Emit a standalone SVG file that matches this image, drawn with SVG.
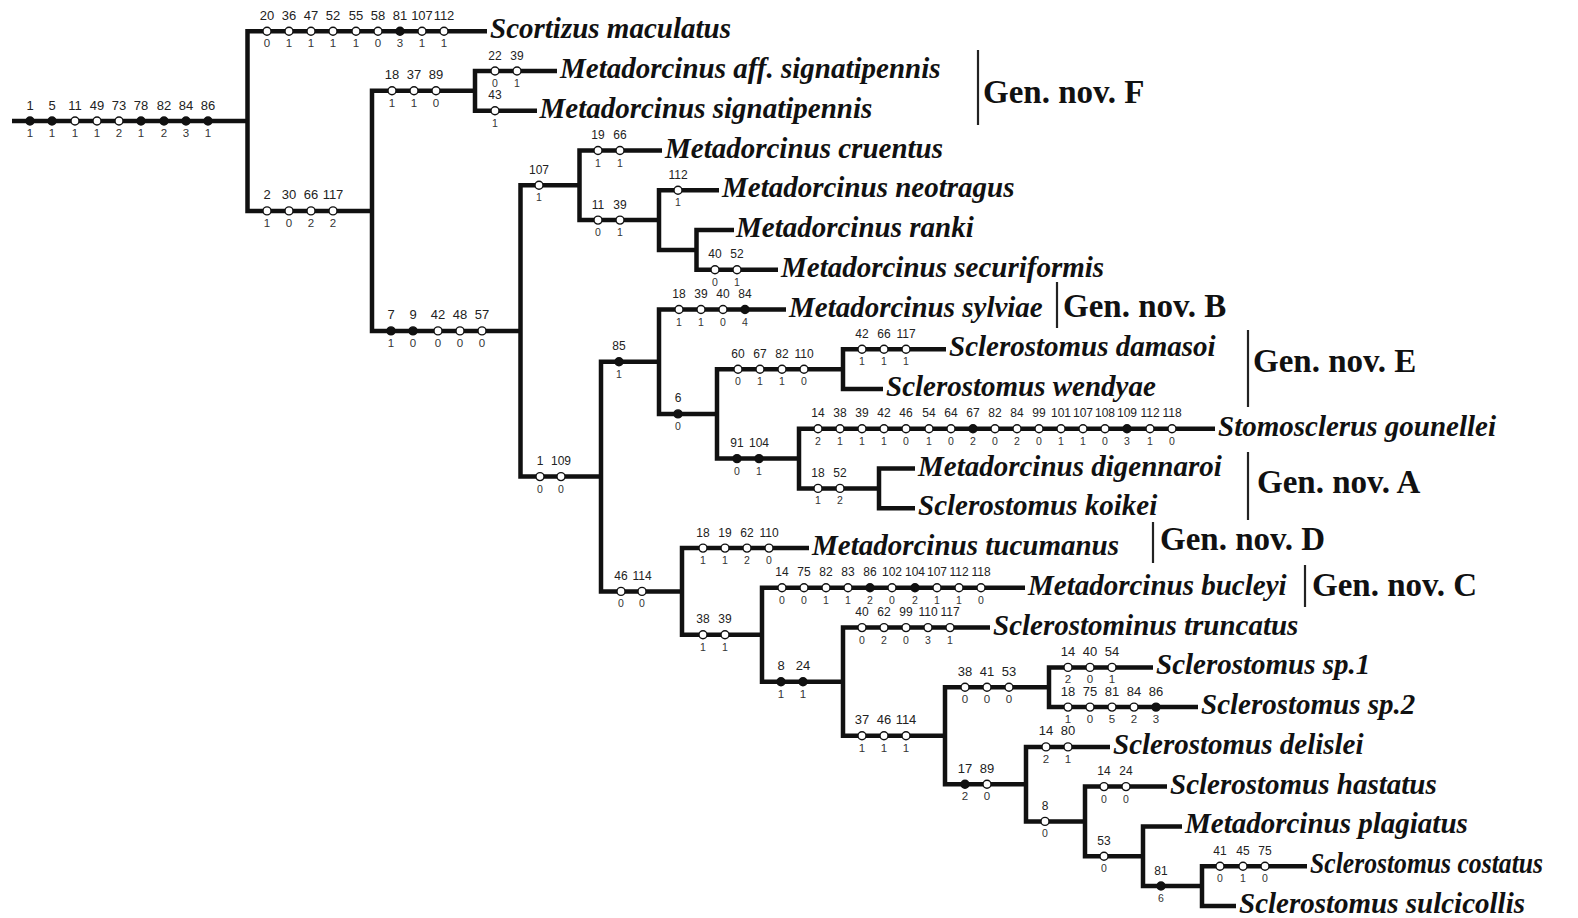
<svg xmlns="http://www.w3.org/2000/svg" width="1578" height="918" viewBox="0 0 1578 918">
<style>
  .br{fill:none;stroke:#111;stroke-width:4.5;stroke-linejoin:miter}
  .bar{stroke:#222;stroke-width:2.2}
  .o{fill:#fff;stroke:#111;stroke-width:1.4}
  .f{fill:#111;stroke:#111;stroke-width:1.4}
  .sp{font-family:"Liberation Serif","Times New Roman",serif;font-weight:bold;font-style:italic;font-size:29px;fill:#111}
  .gn{font-family:"Liberation Serif","Times New Roman",serif;font-weight:bold;font-size:33px;fill:#111}
  .la{font-family:"Liberation Sans",Arial,sans-serif;font-size:13px;fill:#222;text-anchor:middle}
  .lb{font-family:"Liberation Sans",Arial,sans-serif;font-size:11.5px;fill:#333;text-anchor:middle}
  .sa{font-family:"Liberation Sans",Arial,sans-serif;font-size:12px;fill:#222;text-anchor:middle}
  .sb{font-family:"Liberation Sans",Arial,sans-serif;font-size:10.5px;fill:#333;text-anchor:middle}
</style>
<rect width="1578" height="918" fill="#fff"/>

<!-- branches of the tree -->
<g id="connectors" class="br">
  <path d="M12 121 H247.5"/>
  <path d="M487 31.2 H247.5 V210.9 H372"/>
  <path d="M475 90.8 H372 V330.9 H520.5"/>
  <path d="M557 71 H475 V110.7 H537"/>
  <path d="M579.5 185.3 H520.5 V476.6 H601"/>
  <path d="M662 150.5 H579.5 V220.1 H659"/>
  <path d="M719 190.2 H659 V249.9 H696.5"/>
  <path d="M734 230 H696.5 V269.8 H778"/>
  <path d="M659 361.7 H601 V591.4 H682"/>
  <path d="M786 309.5 H659 V413.9 H717"/>
  <path d="M843 369.2 H717 V458.6 H799"/>
  <path d="M946 349.3 H843 V389 H883"/>
  <path d="M1215 428.8 H799 V488.4 H879"/>
  <path d="M915 468.6 H879 V508.3 H915"/>
  <path d="M809 548.1 H682 V634.8 H762"/>
  <path d="M1025 587.8 H762 V681.7 H843"/>
  <path d="M990 627.6 H843 V735.7 H945"/>
  <path d="M1049 687.3 H945 V784.2 H1026"/>
  <path d="M1153 667.4 H1049 V707.1 H1198"/>
  <path d="M1110 746.9 H1026 V821.4 H1085"/>
  <path d="M1167 786.6 H1085 V856.2 H1143"/>
  <path d="M1182 826.4 H1143 V886 H1202"/>
  <path d="M1307 866.2 H1202 V905.9 H1236"/>
</g>

<!-- character changes on each branch -->
<g id="ch-root">
  <circle class="f" cx="30" cy="121" r="4"/><circle class="f" cx="52" cy="121" r="4"/><circle class="o" cx="75" cy="121" r="4"/><circle class="o" cx="97" cy="121" r="4"/><circle class="o" cx="119" cy="121" r="4"/><circle class="f" cx="141" cy="121" r="4"/><circle class="f" cx="164" cy="121" r="4"/><circle class="f" cx="186" cy="121" r="4"/><circle class="f" cx="208" cy="121" r="4"/>
  <text class="la" y="109.5"><tspan x="30">1</tspan><tspan x="52">5</tspan><tspan x="75">11</tspan><tspan x="97">49</tspan><tspan x="119">73</tspan><tspan x="141">78</tspan><tspan x="164">82</tspan><tspan x="186">84</tspan><tspan x="208">86</tspan></text>
  <text class="lb" y="137"><tspan x="30">1</tspan><tspan x="52">1</tspan><tspan x="75">1</tspan><tspan x="97">1</tspan><tspan x="119">2</tspan><tspan x="141">1</tspan><tspan x="164">2</tspan><tspan x="186">3</tspan><tspan x="208">1</tspan></text>
</g>
<g id="ch-scortizus">
  <circle class="o" cx="267" cy="31.2" r="4"/><circle class="o" cx="289" cy="31.2" r="4"/><circle class="o" cx="311" cy="31.2" r="4"/><circle class="o" cx="333" cy="31.2" r="4"/><circle class="o" cx="356" cy="31.2" r="4"/><circle class="o" cx="378" cy="31.2" r="4"/><circle class="f" cx="400" cy="31.2" r="4"/><circle class="o" cx="422" cy="31.2" r="4"/><circle class="o" cx="444" cy="31.2" r="4"/>
  <text class="la" y="19.7"><tspan x="267">20</tspan><tspan x="289">36</tspan><tspan x="311">47</tspan><tspan x="333">52</tspan><tspan x="356">55</tspan><tspan x="378">58</tspan><tspan x="400">81</tspan><tspan x="422">107</tspan><tspan x="444">112</tspan></text>
  <text class="lb" y="47.2"><tspan x="267">0</tspan><tspan x="289">1</tspan><tspan x="311">1</tspan><tspan x="333">1</tspan><tspan x="356">1</tspan><tspan x="378">0</tspan><tspan x="400">3</tspan><tspan x="422">1</tspan><tspan x="444">1</tspan></text>
</g>
<g id="ch-a">
  <circle class="o" cx="267" cy="210.9" r="4"/><circle class="o" cx="289" cy="210.9" r="4"/><circle class="o" cx="311" cy="210.9" r="4"/><circle class="o" cx="333" cy="210.9" r="4"/>
  <text class="la" y="199.4"><tspan x="267">2</tspan><tspan x="289">30</tspan><tspan x="311">66</tspan><tspan x="333">117</tspan></text>
  <text class="lb" y="226.9"><tspan x="267">1</tspan><tspan x="289">0</tspan><tspan x="311">2</tspan><tspan x="333">2</tspan></text>
</g>
<g id="ch-b">
  <circle class="o" cx="392" cy="90.8" r="4"/><circle class="o" cx="414" cy="90.8" r="4"/><circle class="o" cx="436" cy="90.8" r="4"/>
  <text class="la" y="79.3"><tspan x="392">18</tspan><tspan x="414">37</tspan><tspan x="436">89</tspan></text>
  <text class="lb" y="106.8"><tspan x="392">1</tspan><tspan x="414">1</tspan><tspan x="436">0</tspan></text>
</g>
<g id="ch-aff">
  <circle class="o" cx="495" cy="71" r="4"/><circle class="o" cx="517" cy="71" r="4"/>
  <text class="sa" y="59.5"><tspan x="495">22</tspan><tspan x="517">39</tspan></text>
  <text class="sb" y="87"><tspan x="495">0</tspan><tspan x="517">1</tspan></text>
</g>
<g id="ch-sig">
  <circle class="o" cx="495" cy="110.7" r="4"/>
  <text class="sa" y="99.2" x="495">43</text>
  <text class="sb" y="126.7" x="495">1</text>
</g>
<g id="ch-c">
  <circle class="f" cx="391" cy="330.9" r="4"/><circle class="f" cx="413" cy="330.9" r="4"/><circle class="o" cx="438" cy="330.9" r="4"/><circle class="o" cx="460" cy="330.9" r="4"/><circle class="o" cx="482" cy="330.9" r="4"/>
  <text class="la" y="319.4"><tspan x="391">7</tspan><tspan x="413">9</tspan><tspan x="438">42</tspan><tspan x="460">48</tspan><tspan x="482">57</tspan></text>
  <text class="lb" y="346.9"><tspan x="391">1</tspan><tspan x="413">0</tspan><tspan x="438">0</tspan><tspan x="460">0</tspan><tspan x="482">0</tspan></text>
</g>
<g id="ch-d">
  <circle class="o" cx="539" cy="185.3" r="4"/>
  <text class="sa" y="173.8" x="539">107</text>
  <text class="sb" y="201.3" x="539">1</text>
</g>
<g id="ch-cruentus">
  <circle class="o" cx="598" cy="150.5" r="4"/><circle class="o" cx="620" cy="150.5" r="4"/>
  <text class="sa" y="139"><tspan x="598">19</tspan><tspan x="620">66</tspan></text>
  <text class="sb" y="166.5"><tspan x="598">1</tspan><tspan x="620">1</tspan></text>
</g>
<g id="ch-h">
  <circle class="o" cx="598" cy="220.1" r="4"/><circle class="o" cx="620" cy="220.1" r="4"/>
  <text class="sa" y="208.6"><tspan x="598">11</tspan><tspan x="620">39</tspan></text>
  <text class="sb" y="236.1"><tspan x="598">0</tspan><tspan x="620">1</tspan></text>
</g>
<g id="ch-neotragus">
  <circle class="o" cx="678" cy="190.2" r="4"/>
  <text class="sa" y="178.7" x="678">112</text>
  <text class="sb" y="206.2" x="678">1</text>
</g>
<g id="ch-securiformis">
  <circle class="o" cx="715" cy="269.8" r="4"/><circle class="o" cx="737" cy="269.8" r="4"/>
  <text class="sa" y="258.3"><tspan x="715">40</tspan><tspan x="737">52</tspan></text>
  <text class="sb" y="285.8"><tspan x="715">0</tspan><tspan x="737">1</tspan></text>
</g>
<g id="ch-k">
  <circle class="o" cx="540" cy="476.6" r="4"/><circle class="o" cx="561" cy="476.6" r="4"/>
  <text class="sa" y="465.1"><tspan x="540">1</tspan><tspan x="561">109</tspan></text>
  <text class="sb" y="492.6"><tspan x="540">0</tspan><tspan x="561">0</tspan></text>
</g>
<g id="ch-l">
  <circle class="f" cx="619" cy="361.7" r="4"/>
  <text class="sa" y="350.2" x="619">85</text>
  <text class="sb" y="377.7" x="619">1</text>
</g>
<g id="ch-sylviae">
  <circle class="o" cx="679" cy="309.5" r="4"/><circle class="o" cx="701" cy="309.5" r="4"/><circle class="o" cx="723" cy="309.5" r="4"/><circle class="f" cx="745" cy="309.5" r="4"/>
  <text class="sa" y="298"><tspan x="679">18</tspan><tspan x="701">39</tspan><tspan x="723">40</tspan><tspan x="745">84</tspan></text>
  <text class="sb" y="325.5"><tspan x="679">1</tspan><tspan x="701">1</tspan><tspan x="723">0</tspan><tspan x="745">4</tspan></text>
</g>
<g id="ch-n">
  <circle class="f" cx="678" cy="413.9" r="4"/>
  <text class="sa" y="402.4" x="678">6</text>
  <text class="sb" y="429.9" x="678">0</text>
</g>
<g id="ch-o">
  <circle class="o" cx="738" cy="369.2" r="4"/><circle class="o" cx="760" cy="369.2" r="4"/><circle class="o" cx="782" cy="369.2" r="4"/><circle class="o" cx="804" cy="369.2" r="4"/>
  <text class="sa" y="357.7"><tspan x="738">60</tspan><tspan x="760">67</tspan><tspan x="782">82</tspan><tspan x="804">110</tspan></text>
  <text class="sb" y="385.2"><tspan x="738">0</tspan><tspan x="760">1</tspan><tspan x="782">1</tspan><tspan x="804">0</tspan></text>
</g>
<g id="ch-damasoi">
  <circle class="o" cx="862" cy="349.3" r="4"/><circle class="o" cx="884" cy="349.3" r="4"/><circle class="o" cx="906" cy="349.3" r="4"/>
  <text class="sa" y="337.8"><tspan x="862">42</tspan><tspan x="884">66</tspan><tspan x="906">117</tspan></text>
  <text class="sb" y="365.3"><tspan x="862">1</tspan><tspan x="884">1</tspan><tspan x="906">1</tspan></text>
</g>
<g id="ch-p">
  <circle class="f" cx="737" cy="458.6" r="4"/><circle class="f" cx="759" cy="458.6" r="4"/>
  <text class="sa" y="447.1"><tspan x="737">91</tspan><tspan x="759">104</tspan></text>
  <text class="sb" y="474.6"><tspan x="737">0</tspan><tspan x="759">1</tspan></text>
</g>
<g id="ch-gounellei">
  <circle class="o" cx="818" cy="428.8" r="4"/><circle class="o" cx="840" cy="428.8" r="4"/><circle class="o" cx="862" cy="428.8" r="4"/><circle class="o" cx="884" cy="428.8" r="4"/><circle class="o" cx="906" cy="428.8" r="4"/><circle class="o" cx="929" cy="428.8" r="4"/><circle class="o" cx="951" cy="428.8" r="4"/><circle class="f" cx="973" cy="428.8" r="4"/><circle class="o" cx="995" cy="428.8" r="4"/><circle class="o" cx="1017" cy="428.8" r="4"/><circle class="o" cx="1039" cy="428.8" r="4"/><circle class="o" cx="1061" cy="428.8" r="4"/><circle class="o" cx="1083" cy="428.8" r="4"/><circle class="o" cx="1105" cy="428.8" r="4"/><circle class="f" cx="1127" cy="428.8" r="4"/><circle class="o" cx="1150" cy="428.8" r="4"/><circle class="o" cx="1172" cy="428.8" r="4"/>
  <text class="sa" y="417.3"><tspan x="818">14</tspan><tspan x="840">38</tspan><tspan x="862">39</tspan><tspan x="884">42</tspan><tspan x="906">46</tspan><tspan x="929">54</tspan><tspan x="951">64</tspan><tspan x="973">67</tspan><tspan x="995">82</tspan><tspan x="1017">84</tspan><tspan x="1039">99</tspan><tspan x="1061">101</tspan><tspan x="1083">107</tspan><tspan x="1105">108</tspan><tspan x="1127">109</tspan><tspan x="1150">112</tspan><tspan x="1172">118</tspan></text>
  <text class="sb" y="444.8"><tspan x="818">2</tspan><tspan x="840">1</tspan><tspan x="862">1</tspan><tspan x="884">1</tspan><tspan x="906">0</tspan><tspan x="929">1</tspan><tspan x="951">0</tspan><tspan x="973">2</tspan><tspan x="995">0</tspan><tspan x="1017">2</tspan><tspan x="1039">0</tspan><tspan x="1061">1</tspan><tspan x="1083">1</tspan><tspan x="1105">0</tspan><tspan x="1127">3</tspan><tspan x="1150">1</tspan><tspan x="1172">0</tspan></text>
</g>
<g id="ch-q">
  <circle class="o" cx="818" cy="488.4" r="4"/><circle class="o" cx="840" cy="488.4" r="4"/>
  <text class="sa" y="476.9"><tspan x="818">18</tspan><tspan x="840">52</tspan></text>
  <text class="sb" y="504.4"><tspan x="818">1</tspan><tspan x="840">2</tspan></text>
</g>
<g id="ch-m">
  <circle class="o" cx="621" cy="591.4" r="4"/><circle class="o" cx="642" cy="591.4" r="4"/>
  <text class="sa" y="579.9"><tspan x="621">46</tspan><tspan x="642">114</tspan></text>
  <text class="sb" y="607.4"><tspan x="621">0</tspan><tspan x="642">0</tspan></text>
</g>
<g id="ch-tucumanus">
  <circle class="o" cx="703" cy="548.1" r="4"/><circle class="o" cx="725" cy="548.1" r="4"/><circle class="o" cx="747" cy="548.1" r="4"/><circle class="o" cx="769" cy="548.1" r="4"/>
  <text class="sa" y="536.6"><tspan x="703">18</tspan><tspan x="725">19</tspan><tspan x="747">62</tspan><tspan x="769">110</tspan></text>
  <text class="sb" y="564.1"><tspan x="703">1</tspan><tspan x="725">1</tspan><tspan x="747">2</tspan><tspan x="769">0</tspan></text>
</g>
<g id="ch-s">
  <circle class="o" cx="703" cy="634.8" r="4"/><circle class="o" cx="725" cy="634.8" r="4"/>
  <text class="sa" y="623.3"><tspan x="703">38</tspan><tspan x="725">39</tspan></text>
  <text class="sb" y="650.8"><tspan x="703">1</tspan><tspan x="725">1</tspan></text>
</g>
<g id="ch-bucleyi">
  <circle class="o" cx="782" cy="587.8" r="4"/><circle class="o" cx="804" cy="587.8" r="4"/><circle class="o" cx="826" cy="587.8" r="4"/><circle class="o" cx="848" cy="587.8" r="4"/><circle class="f" cx="870" cy="587.8" r="4"/><circle class="o" cx="892" cy="587.8" r="4"/><circle class="f" cx="915" cy="587.8" r="4"/><circle class="o" cx="937" cy="587.8" r="4"/><circle class="o" cx="959" cy="587.8" r="4"/><circle class="o" cx="981" cy="587.8" r="4"/>
  <text class="sa" y="576.3"><tspan x="782">14</tspan><tspan x="804">75</tspan><tspan x="826">82</tspan><tspan x="848">83</tspan><tspan x="870">86</tspan><tspan x="892">102</tspan><tspan x="915">104</tspan><tspan x="937">107</tspan><tspan x="959">112</tspan><tspan x="981">118</tspan></text>
  <text class="sb" y="603.8"><tspan x="782">0</tspan><tspan x="804">0</tspan><tspan x="826">1</tspan><tspan x="848">1</tspan><tspan x="870">2</tspan><tspan x="892">0</tspan><tspan x="915">2</tspan><tspan x="937">1</tspan><tspan x="959">1</tspan><tspan x="981">0</tspan></text>
</g>
<g id="ch-t">
  <circle class="f" cx="781" cy="681.7" r="4"/><circle class="f" cx="803" cy="681.7" r="4"/>
  <text class="la" y="670.2"><tspan x="781">8</tspan><tspan x="803">24</tspan></text>
  <text class="lb" y="697.7"><tspan x="781">1</tspan><tspan x="803">1</tspan></text>
</g>
<g id="ch-truncatus">
  <circle class="o" cx="862" cy="627.6" r="4"/><circle class="o" cx="884" cy="627.6" r="4"/><circle class="o" cx="906" cy="627.6" r="4"/><circle class="o" cx="928" cy="627.6" r="4"/><circle class="o" cx="950" cy="627.6" r="4"/>
  <text class="sa" y="616.1"><tspan x="862">40</tspan><tspan x="884">62</tspan><tspan x="906">99</tspan><tspan x="928">110</tspan><tspan x="950">117</tspan></text>
  <text class="sb" y="643.6"><tspan x="862">0</tspan><tspan x="884">2</tspan><tspan x="906">0</tspan><tspan x="928">3</tspan><tspan x="950">1</tspan></text>
</g>
<g id="ch-u">
  <circle class="o" cx="862" cy="735.7" r="4"/><circle class="o" cx="884" cy="735.7" r="4"/><circle class="o" cx="906" cy="735.7" r="4"/>
  <text class="la" y="724.2"><tspan x="862">37</tspan><tspan x="884">46</tspan><tspan x="906">114</tspan></text>
  <text class="lb" y="751.7"><tspan x="862">1</tspan><tspan x="884">1</tspan><tspan x="906">1</tspan></text>
</g>
<g id="ch-v">
  <circle class="o" cx="965" cy="687.3" r="4"/><circle class="o" cx="987" cy="687.3" r="4"/><circle class="o" cx="1009" cy="687.3" r="4"/>
  <text class="la" y="675.8"><tspan x="965">38</tspan><tspan x="987">41</tspan><tspan x="1009">53</tspan></text>
  <text class="lb" y="703.3"><tspan x="965">0</tspan><tspan x="987">0</tspan><tspan x="1009">0</tspan></text>
</g>
<g id="ch-sp1">
  <circle class="o" cx="1068" cy="667.4" r="4"/><circle class="o" cx="1090" cy="667.4" r="4"/><circle class="o" cx="1112" cy="667.4" r="4"/>
  <text class="la" y="655.9"><tspan x="1068">14</tspan><tspan x="1090">40</tspan><tspan x="1112">54</tspan></text>
  <text class="lb" y="683.4"><tspan x="1068">2</tspan><tspan x="1090">0</tspan><tspan x="1112">1</tspan></text>
</g>
<g id="ch-sp2">
  <circle class="o" cx="1068" cy="707.1" r="4"/><circle class="o" cx="1090" cy="707.1" r="4"/><circle class="o" cx="1112" cy="707.1" r="4"/><circle class="o" cx="1134" cy="707.1" r="4"/><circle class="f" cx="1156" cy="707.1" r="4"/>
  <text class="la" y="695.6"><tspan x="1068">18</tspan><tspan x="1090">75</tspan><tspan x="1112">81</tspan><tspan x="1134">84</tspan><tspan x="1156">86</tspan></text>
  <text class="lb" y="723.1"><tspan x="1068">1</tspan><tspan x="1090">0</tspan><tspan x="1112">5</tspan><tspan x="1134">2</tspan><tspan x="1156">3</tspan></text>
</g>
<g id="ch-w">
  <circle class="f" cx="965" cy="784.2" r="4"/><circle class="o" cx="987" cy="784.2" r="4"/>
  <text class="la" y="772.7"><tspan x="965">17</tspan><tspan x="987">89</tspan></text>
  <text class="lb" y="800.2"><tspan x="965">2</tspan><tspan x="987">0</tspan></text>
</g>
<g id="ch-delislei">
  <circle class="o" cx="1046" cy="746.9" r="4"/><circle class="o" cx="1068" cy="746.9" r="4"/>
  <text class="la" y="735.4"><tspan x="1046">14</tspan><tspan x="1068">80</tspan></text>
  <text class="lb" y="762.9"><tspan x="1046">2</tspan><tspan x="1068">1</tspan></text>
</g>
<g id="ch-x">
  <circle class="o" cx="1045" cy="821.4" r="4"/>
  <text class="sa" y="809.9" x="1045">8</text>
  <text class="sb" y="837.4" x="1045">0</text>
</g>
<g id="ch-hastatus">
  <circle class="o" cx="1104" cy="786.6" r="4"/><circle class="o" cx="1126" cy="786.6" r="4"/>
  <text class="sa" y="775.1"><tspan x="1104">14</tspan><tspan x="1126">24</tspan></text>
  <text class="sb" y="802.6"><tspan x="1104">0</tspan><tspan x="1126">0</tspan></text>
</g>
<g id="ch-y">
  <circle class="o" cx="1104" cy="856.2" r="4"/>
  <text class="sa" y="844.7" x="1104">53</text>
  <text class="sb" y="872.2" x="1104">0</text>
</g>
<g id="ch-z">
  <circle class="f" cx="1161" cy="886" r="4"/>
  <text class="sa" y="874.5" x="1161">81</text>
  <text class="sb" y="902" x="1161">6</text>
</g>
<g id="ch-costatus">
  <circle class="o" cx="1220" cy="866.2" r="4"/><circle class="o" cx="1243" cy="866.2" r="4"/><circle class="o" cx="1265" cy="866.2" r="4"/>
  <text class="sa" y="854.7"><tspan x="1220">41</tspan><tspan x="1243">45</tspan><tspan x="1265">75</tspan></text>
  <text class="sb" y="882.2"><tspan x="1220">0</tspan><tspan x="1243">1</tspan><tspan x="1265">0</tspan></text>
</g>

<!-- terminal taxa -->
<g id="tx-scortizus-maculatus"><text class="sp" x="490" y="38.2">Scortizus maculatus</text></g>
<g id="tx-metadorcinus-aff-signatipennis"><text class="sp" x="560" y="78">Metadorcinus aff. signatipennis</text></g>
<g id="tx-metadorcinus-signatipennis"><text class="sp" x="539.5" y="117.7">Metadorcinus signatipennis</text></g>
<g id="tx-metadorcinus-cruentus"><text class="sp" x="665" y="157.5">Metadorcinus cruentus</text></g>
<g id="tx-metadorcinus-neotragus"><text class="sp" x="722" y="197.2">Metadorcinus neotragus</text></g>
<g id="tx-metadorcinus-ranki"><text class="sp" x="736" y="237">Metadorcinus ranki</text></g>
<g id="tx-metadorcinus-securiformis"><text class="sp" x="781" y="276.8">Metadorcinus securiformis</text></g>
<g id="tx-metadorcinus-sylviae"><text class="sp" x="789" y="316.5">Metadorcinus sylviae</text></g>
<g id="tx-sclerostomus-damasoi"><text class="sp" x="949" y="356.3">Sclerostomus damasoi</text></g>
<g id="tx-sclerostomus-wendyae"><text class="sp" x="886" y="396">Sclerostomus wendyae</text></g>
<g id="tx-stomosclerus-gounellei"><text class="sp" x="1218" y="435.8">Stomosclerus gounellei</text></g>
<g id="tx-metadorcinus-digennaroi"><text class="sp" x="918" y="475.6">Metadorcinus digennaroi</text></g>
<g id="tx-sclerostomus-koikei"><text class="sp" x="918" y="515.3">Sclerostomus koikei</text></g>
<g id="tx-metadorcinus-tucumanus"><text class="sp" x="812" y="555.1">Metadorcinus tucumanus</text></g>
<g id="tx-metadorcinus-bucleyi"><text class="sp" x="1028" y="594.8">Metadorcinus bucleyi</text></g>
<g id="tx-sclerostominus-truncatus"><text class="sp" x="993" y="634.6">Sclerostominus truncatus</text></g>
<g id="tx-sclerostomus-sp1"><text class="sp" x="1156" y="674.4">Sclerostomus sp.1</text></g>
<g id="tx-sclerostomus-sp2"><text class="sp" x="1201" y="714.1">Sclerostomus sp.2</text></g>
<g id="tx-sclerostomus-delislei"><text class="sp" x="1113" y="753.9">Sclerostomus delislei</text></g>
<g id="tx-sclerostomus-hastatus"><text class="sp" x="1170" y="793.6">Sclerostomus hastatus</text></g>
<g id="tx-metadorcinus-plagiatus"><text class="sp" x="1185" y="833.4">Metadorcinus plagiatus</text></g>
<g id="tx-sclerostomus-costatus"><text class="sp" x="1310" y="873.2" textLength="233" lengthAdjust="spacingAndGlyphs">Sclerostomus costatus</text></g>
<g id="tx-sclerostomus-sulcicollis"><text class="sp" x="1239" y="912.9">Sclerostomus sulcicollis</text></g>

<!-- genus brackets -->
<g id="gen-nov-f"><line class="bar" x1="978" y1="50" x2="978" y2="125"/><text class="gn" x="983" y="103">Gen. nov. F</text></g>
<g id="gen-nov-b"><line class="bar" x1="1057" y1="282" x2="1057" y2="328"/><text class="gn" x="1063" y="317">Gen. nov. B</text></g>
<g id="gen-nov-e"><line class="bar" x1="1248" y1="330" x2="1248" y2="407"/><text class="gn" x="1253" y="372">Gen. nov. E</text></g>
<g id="gen-nov-a"><line class="bar" x1="1248" y1="452" x2="1248" y2="520"/><text class="gn" x="1257" y="493">Gen. nov. A</text></g>
<g id="gen-nov-d"><line class="bar" x1="1153" y1="522" x2="1153" y2="563"/><text class="gn" x="1160" y="550">Gen. nov. D</text></g>
<g id="gen-nov-c"><line class="bar" x1="1305" y1="565" x2="1305" y2="607"/><text class="gn" x="1312" y="596">Gen. nov. C</text></g>
</svg>
